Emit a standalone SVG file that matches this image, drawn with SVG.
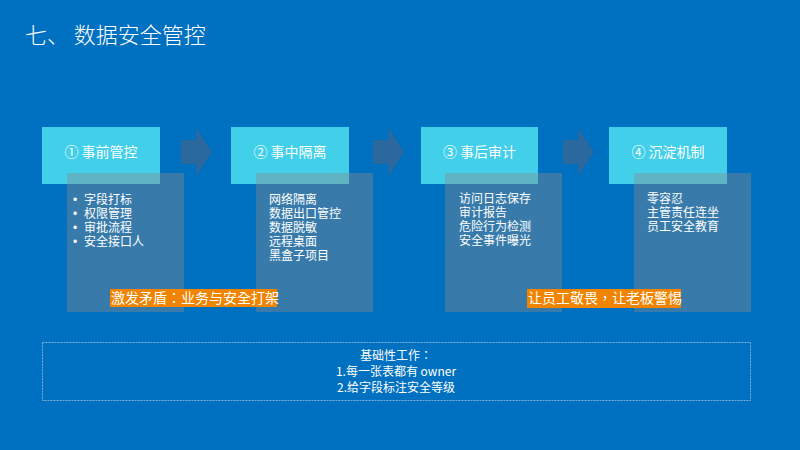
<svg xmlns="http://www.w3.org/2000/svg" width="800" height="450" viewBox="0 0 800 450">
  <defs>
    <style>
      text { font-family: "Noto Sans CJK SC", "Liberation Sans", sans-serif; fill: #ffffff; }
      .title { font-size: 22px; font-weight: 300; }
      .head { fill: #41CFEA; }
      .head-t { font-size: 14px; text-anchor: middle; }
      .panel { fill: #8c8c8c; fill-opacity: 0.4; }
      .body { font-size: 12px; }
      .bullet { font-family: "Liberation Sans", sans-serif; font-size: 12px; }
      .arrow { fill: #2A689D; }
      .note { fill: #F08300; }
      .note-t { font-size: 14px; font-family: "Noto Sans CJK TC", "Noto Sans CJK SC", sans-serif; }
      .base { fill: none; stroke: #7FB3DD; stroke-width: 1; stroke-dasharray: 2 1; }
      .base-t { font-size: 12px; text-anchor: middle; }
      .tc { font-family: "Noto Sans CJK TC", "Noto Sans CJK SC", sans-serif; }
    </style>
  </defs>
  <rect x="0" y="0" width="800" height="450" fill="#0070C0"/>
  <text class="title" x="25" y="43">七、 数据安全管控</text>

  <g id="connectors">
    <polygon class="arrow" points="181,140 196,140 196,128 212,152 196,176 196,164 181,164"/>
    <polygon class="arrow" points="373,140 389,140 389,128 404,152 389,176 389,164 373,164"/>
    <polygon class="arrow" points="563,140 578,140 578,128 594,152 578,176 578,164 563,164"/>
  </g>

  <g id="node1">
    <rect class="head" x="42" y="127" width="118" height="57"/>
    <text class="head-t" x="101" y="157">① 事前管控</text>
    <rect class="panel" x="67" y="173" width="117" height="139"/>
    <text class="bullet" x="73" y="204">•</text>
    <text class="bullet" x="73" y="218">•</text>
    <text class="bullet" x="73" y="232">•</text>
    <text class="bullet" x="73" y="246">•</text>
    <text class="body">
      <tspan x="84" y="204">字段打标</tspan>
      <tspan x="84" y="218">权限管理</tspan>
      <tspan x="84" y="232">审批流程</tspan>
      <tspan x="84" y="246">安全接口人</tspan>
    </text>
  </g>

  <g id="node2">
    <rect class="head" x="231" y="127" width="118" height="57"/>
    <text class="head-t" x="290" y="157">② 事中隔离</text>
    <rect class="panel" x="256" y="173" width="117" height="139"/>
    <text class="body">
      <tspan x="269" y="204">网络隔离</tspan>
      <tspan x="269" y="218">数据出口管控</tspan>
      <tspan x="269" y="232">数据脱敏</tspan>
      <tspan x="269" y="246">远程桌面</tspan>
      <tspan x="269" y="260">黑盒子项目</tspan>
    </text>
  </g>

  <g id="node3">
    <rect class="head" x="421" y="127" width="117" height="57"/>
    <text class="head-t" x="479.5" y="157">③ 事后审计</text>
    <rect class="panel" x="445" y="173" width="117" height="139"/>
    <text class="body">
      <tspan x="459" y="203">访问日志保存</tspan>
      <tspan x="459" y="217">审计报告</tspan>
      <tspan x="459" y="231">危险行为检测</tspan>
      <tspan x="459" y="245">安全事件曝光</tspan>
    </text>
  </g>

  <g id="node4">
    <rect class="head" x="609" y="127" width="118" height="57"/>
    <text class="head-t" x="668" y="157">④ 沉淀机制</text>
    <rect class="panel" x="634" y="173" width="117" height="139"/>
    <text class="body">
      <tspan x="647" y="203">零容忍</tspan>
      <tspan x="647" y="217">主管责任连坐</tspan>
      <tspan x="647" y="231">员工安全教育</tspan>
    </text>
  </g>

  <g id="note1">
    <rect class="note" x="110" y="289" width="167" height="18"/>
    <text class="note-t" x="111" y="303">激发矛盾：业务与安全打架</text>
  </g>

  <g id="note2">
    <rect class="note" x="527" y="289" width="154" height="19"/>
    <text class="note-t" x="528" y="303">让员工敬畏，让老板警惕</text>
  </g>

  <g id="foundation">
    <rect class="base" x="42.5" y="342.5" width="708" height="58"/>
    <text class="base-t tc" x="396" y="360">基础性工作：</text>
    <text class="base-t" x="396" y="376">1.每一张表都有 owner</text>
    <text class="base-t" x="396" y="392">2.给字段标注安全等级</text>
  </g>
</svg>
